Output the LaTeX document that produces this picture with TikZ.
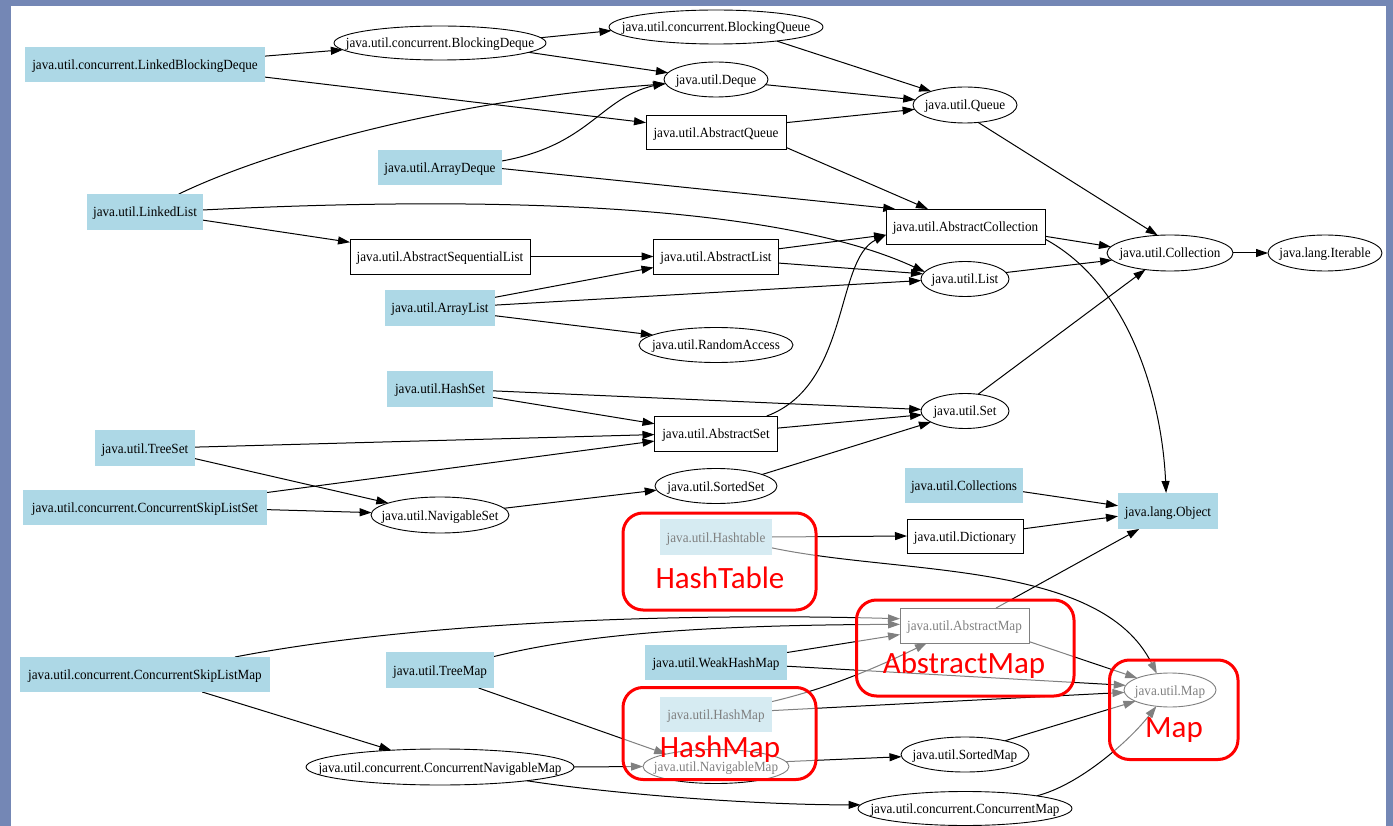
\documentclass[tikz,border=0pt]{standalone}
\usepackage{fontspec}
\setmainfont{Liberation Serif}[FakeStretch=0.94]
\newfontfamily\notefont{Carlito}
\usetikzlibrary{arrows.meta,shapes.geometric}

\definecolor{frameblue}{RGB}{116,135,181}
\definecolor{clsblue}{RGB}{173,216,230}
\definecolor{notered}{RGB}{255,0,0}

\pgfdeclarelayer{bglayer}
\pgfdeclarelayer{edgelayer}
\pgfsetlayers{bglayer,edgelayer,main}

\tikzset{
  gnode/.style={inner sep=0pt, outer sep=0pt, font=\fontsize{14}{16}\selectfont,
    text height=12pt, text depth=2pt,
    execute at begin node={\hbox to 0pt\bgroup\hss},
    execute at end node={\hss\egroup}},
  sz/.style 2 args={minimum width=#1pt, minimum height=#2pt},
  cls/.style={gnode, rectangle, fill=clsblue},
  abst/.style={gnode, rectangle, draw=black, line width=0.9pt, fill=white},
  ifc/.style={gnode, ellipse, draw=black, line width=0.9pt, fill=white},
  dep/.style={draw=black, line width=1pt, -{Triangle[length=12pt,width=8pt]}},
  hlbox/.style={rectangle, rounded corners=20pt, draw=notered, line width=3pt,
    fill=white, fill opacity=0.5, draw opacity=1, inner sep=0pt},
  hllabel/.style={anchor=base, inner sep=0pt, text=notered,
    font=\notefont\fontsize{31}{31}\selectfont},
}

\begin{document}
\begin{tikzpicture}[x=1pt, y=-1pt]
\useasboundingbox (0,0) rectangle (1393,826);
\begin{pgfonlayer}{bglayer}
  \fill[frameblue] (0,0) rectangle (1393,826);
  \fill[white] (11,6) rectangle (1386,826);
\end{pgfonlayer}

% concrete classes
\node[cls, sz={240}{35}] (lbd) at (145,64.5) {java.util.concurrent.LinkedBlockingDeque};
\node[cls, sz={124}{35}] (arraydeque) at (440,167.5) {java.util.ArrayDeque};
\node[cls, sz={116}{36}] (linkedlist) at (145,212) {java.util.LinkedList};
\node[cls, sz={110}{36}] (arraylist) at (440,308) {java.util.ArrayList};
\node[cls, sz={106}{36}] (hashset) at (440,389) {java.util.HashSet};
\node[cls, sz={100}{36}] (treeset) at (145,448) {java.util.TreeSet};
\node[cls, sz={244}{35}] (csls) at (145,507.5) {java.util.concurrent.ConcurrentSkipListSet};
\node[cls, sz={118}{35}] (collections) at (964,485.5) {java.util.Collections};
\node[cls, sz={100}{36}] (object) at (1168,511) {java.lang.Object};
\node[cls, sz={112}{36}] (hashtable) at (716,537) {java.util.Hashtable};
\node[cls, sz={250}{35}] (cslm) at (145,674.5) {java.util.concurrent.ConcurrentSkipListMap};
\node[cls, sz={108}{36}] (treemap) at (440,670) {java.util.TreeMap};
\node[cls, sz={142}{35}] (weakhashmap) at (716,662.5) {java.util.WeakHashMap};
\node[cls, sz={112}{35}] (hashmap) at (716,714.5) {java.util.HashMap};

% abstract classes
\node[abst, sz={140}{34}] (abstractqueue) at (716,132.5) {java.util.AbstractQueue};
\node[abst, sz={180}{35}] (asl) at (440,256.5) {java.util.AbstractSequentialList};
\node[abst, sz={125}{35}] (abstractlist) at (716,256.5) {java.util.AbstractList};
\node[abst, sz={159}{35}] (abstractcollection) at (965.5,226.5) {java.util.AbstractCollection};
\node[abst, sz={123}{35}] (abstractset) at (716,433.5) {java.util.AbstractSet};
\node[abst, sz={116}{34}] (dictionary) at (965,536) {java.util.Dictionary};
\node[abst, sz={129}{35}] (abstractmap) at (964.5,625.5) {java.util.AbstractMap};

% interfaces
\node[ifc, sz={212}{34}] (blockingdeque) at (440,43) {java.util.concurrent.BlockingDeque};
\node[ifc, sz={214}{34}] (blockingqueue) at (716,27) {java.util.concurrent.BlockingQueue};
\node[ifc, sz={104}{35}] (deque) at (716,79.5) {java.util.Deque};
\node[ifc, sz={104}{36}] (queue) at (965,105) {java.util.Queue};
\node[ifc, sz={126}{36}] (collection) at (1170,253) {java.util.Collection};
\node[ifc, sz={114}{36}] (iterable) at (1325,253) {java.lang.Iterable};
\node[ifc, sz={88}{35}] (list) at (965,279) {java.util.List};
\node[ifc, sz={154}{35}] (randomaccess) at (716,345) {java.util.RandomAccess};
\node[ifc, sz={88}{35}] (set) at (965,411) {java.util.Set};
\node[ifc, sz={122}{35}] (sortedset) at (716,486) {java.util.SortedSet};
\node[ifc, sz={138}{36}] (navigableset) at (440,515) {java.util.NavigableSet};
\node[ifc, sz={268}{36}] (cnm) at (440,767) {java.util.concurrent.ConcurrentNavigableMap};
\node[ifc, sz={146}{34}] (navigablemap) at (716,766.5) {java.util.NavigableMap};
\node[ifc, sz={128}{35}] (sortedmap) at (965,754.5) {java.util.SortedMap};
\node[ifc, sz={214}{34}] (concurrentmap) at (965,808.5) {java.util.concurrent.ConcurrentMap};
\node[ifc, sz={92}{34}] (map) at (1170,690) {java.util.Map};

% dependency arrows
\begin{pgfonlayer}{edgelayer}
\draw[dep] (lbd.4) -- (blockingdeque.184.8);
\draw[dep] (lbd.-6.4) -- (abstractqueue.172.7);
\draw[dep] (blockingdeque.3.4) -- (blockingqueue.182.7);
\draw[dep] (blockingdeque.-6.7) -- (deque.172.2);
\draw[dep] (blockingqueue.-13.8) -- (queue.158.5);
\draw[dep] (deque.-6.7) -- (queue.174.4);
\draw[dep] (abstractqueue.8.1) -- (queue.185.6);
\draw[dep] (abstractqueue.-12.4) -- (abstractcollection.155.8);
\draw[dep] (queue.-53.5) -- (collection.125.8);
\draw[dep] (linkedlist.28.6) .. controls (270,150) and (450,100) .. (deque.185.9);
\draw[dep] (arraydeque.6.4) .. controls (590,145) and (600,98) .. (deque.184.7);
\draw[dep] (arraydeque.-1.8) -- (abstractcollection.166.6);
\draw[dep] (linkedlist.2) .. controls (500,195) and (780,205) .. (list.170.5);
\draw[dep] (linkedlist.-8.8) -- (asl.171.2);
\draw[dep] (asl.east) -- (abstractlist.west);
\draw[dep] (abstractlist.7.4) -- (abstractcollection.186.5);
\draw[dep] (abstractlist.-6.4) -- (list.173.2);
\draw[dep] (abstractcollection.-7.1) -- (collection.174.4);
\draw[dep] (abstractcollection.-9.2) .. controls (1130,285) and (1162,400) .. (object.96.3);
\draw[dep] (list.9.2) -- (collection.187.1);
\draw[dep] (collection.east) -- (iterable.west);
\draw[dep] (arraylist.11.3) -- (abstractlist.190.8);
\draw[dep] (arraylist.3.1) -- (list.182.7);
\draw[dep] (arraylist.-8.3) -- (randomaccess.171.8);
\draw[dep] (hashset.-2.2) -- (set.178.7);
\draw[dep] (hashset.-9.6) -- (abstractset.171);
\draw[dep] (abstractset.19.9) .. controls (850,385) and (835,260) .. (abstractcollection.186.4);
\draw[dep] (abstractset.5.5) -- (set.185.3);
\draw[dep] (set.52.7) -- (collection.214.8);
\draw[dep] (treeset.1.1) -- (abstractset.181.8);
\draw[dep] (treeset.-12.4) -- (navigableset.167);
\draw[dep] (csls.7) -- (abstractset.187.1);
\draw[dep] (csls.-1.4) -- (navigableset.178.3);
\draw[dep] (navigableset.6.2) -- (sortedset.184);
\draw[dep] (sortedset.14) -- (set.198.4);
\draw[dep] (collections.-6.8) -- (object.174.3);
\draw[dep] (dictionary.7.9) -- (object.186.8);
\draw[dep] (hashtable.east) -- (dictionary.west);
\draw[dep] (hashtable.-11.1) .. controls (900,575) and (1100,560) .. (map.129.5);
\draw[dep] (abstractmap.29.4) -- (object.212.7);
\draw[dep] (abstractmap.-14.9) -- (map.160.6);
\draw[dep] (cslm.11.1) .. controls (400,625) and (650,612) .. (abstractmap.174.7);
\draw[dep] (treemap.14.5) .. controls (580,635) and (700,625) .. (abstractmap.179);
\draw[dep] (treemap.-25.3) -- (navigablemap.166.4);
\draw[dep] (weakhashmap.8) -- (abstractmap.188.7);
\draw[dep] (weakhashmap.-3.2) -- (map.174.9);
\draw[dep] (hashmap.13) .. controls (830,688) and (880,666) .. (abstractmap.205.9);
\draw[dep] (hashmap.4.1) -- (map.183.8);
\draw[dep] (cnm.east) -- (navigablemap.west);
\draw[dep] (cnm.-9.2) .. controls (620,795) and (760,805) .. (concurrentmap.178.9);
\draw[dep] (navigablemap.4) -- (sortedmap.182.7);
\draw[dep] (sortedmap.19.2) -- (map.198);
\draw[dep] (concurrentmap.10.8) .. controls (1080,785) and (1130,740) .. (map.230.5);
\draw[dep] (cslm.-17.8) -- (cnm.161.9);
\end{pgfonlayer}

% highlighted groups
\node[hlbox, minimum width=193pt, minimum height=97pt] (tablebox) at (719.5,561.5) {};
\node[hlbox, minimum width=193pt, minimum height=92pt] (hashmapbox) at (719.5,733.5) {};
\node[hlbox, minimum width=217.5pt, minimum height=96pt] (absmapbox) at (965.25,648) {};
\node[hlbox, minimum width=128.5pt, minimum height=99.5pt] (mapbox) at (1173.75,709.75) {};

\node[hllabel] (tablelabel) at (720,588) {HashTable};
\node[hllabel] (hashmaplabel) at (720,757) {HashMap};
\node[hllabel] (absmaplabel) at (964,673) {AbstractMap};
\node[hllabel] (maplabel) at (1174,737) {Map};
\end{tikzpicture}
\end{document}
